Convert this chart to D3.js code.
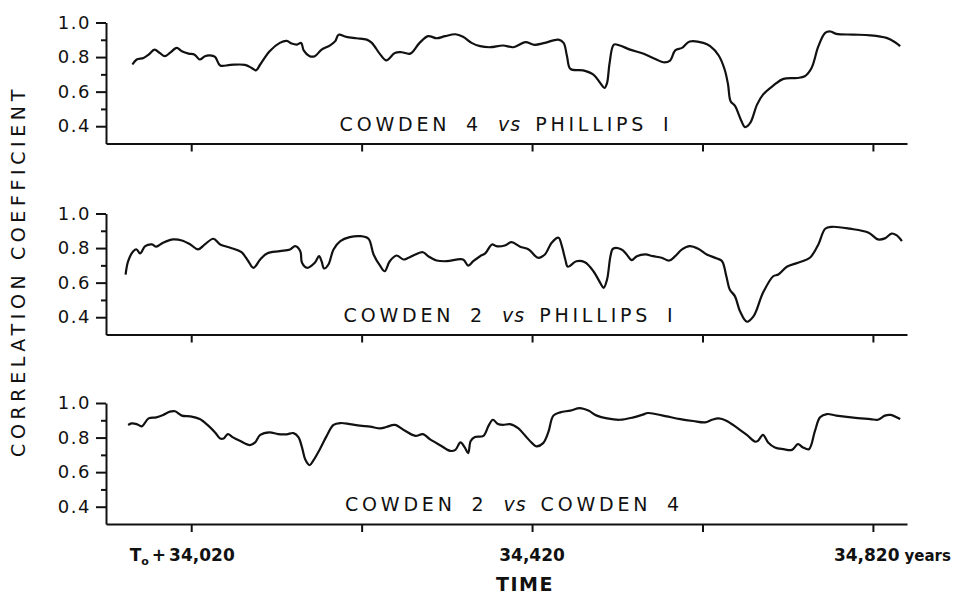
<!DOCTYPE html>
<html>
<head>
<meta charset="utf-8">
<script src="https://cdn.jsdelivr.net/npm/d3@7"></script>
<style>
  body { margin: 0; background: #fff; }
  text { font-family: "DejaVu Sans", sans-serif; fill: #111; }
</style>
</head>
<body>
<div id="chart"></div>
<script>
// data (years, correlation coefficient)
var years1 = [33951,33956,33964,33970,33977,33983,33989,33995,34003,34009,
  34017,34024,34030,34036,34042,34048,34054,34066,34083,34091,
  34096,34101,34112,34124,34132,34138,34144,34149,34152,34159,
  34165,34173,34183,34189,34193,34202,34214,34226,34232,34242,
  34249,34259,34267,34277,34288,34298,34308,34318,34330,34339,
  34349,34359,34371,34386,34398,34412,34423,34435,34451,34457,
  34461,34465,34480,34492,34500,34505,34508,34511,34516,34523,
  34535,34551,34566,34574,34582,34588,34596,34605,34621,34629,
  34639,34646,34650,34653,34658,34665,34670,34676,34684,34691,
  34703,34715,34731,34740,34748,34756,34764,34770,34777,34797,
  34817,34836,34846,34852];
var corr1 = [0.757,0.786,0.795,0.814,0.843,0.824,0.805,0.824,0.853,0.834,
  0.820,0.814,0.786,0.805,0.810,0.801,0.751,0.755,0.755,0.737,
  0.723,0.757,0.834,0.882,0.894,0.878,0.872,0.882,0.839,0.805,
  0.805,0.843,0.868,0.892,0.929,0.917,0.909,0.901,0.882,0.814,
  0.781,0.824,0.828,0.820,0.882,0.921,0.909,0.921,0.932,0.917,
  0.882,0.863,0.857,0.867,0.857,0.886,0.871,0.882,0.901,0.882,
  0.805,0.732,0.723,0.699,0.650,0.621,0.650,0.766,0.872,0.867,
  0.843,0.819,0.786,0.770,0.780,0.839,0.853,0.890,0.882,0.863,
  0.809,0.728,0.641,0.544,0.519,0.438,0.395,0.419,0.525,0.583,
  0.635,0.674,0.679,0.689,0.737,0.863,0.940,0.948,0.934,0.930,
  0.926,0.911,0.886,0.863];

var years2 = [33943,33946,33952,33956,33960,33966,33974,33979,33987,33999,
  34009,34019,34028,34036,34046,34054,34066,34079,34087,34093,
  34101,34109,34124,34136,34142,34148,34150,34156,34165,34170,
  34173,34176,34181,34187,34195,34206,34218,34228,34234,34242,
  34247,34253,34261,34269,34275,34283,34292,34298,34308,34320,
  34339,34345,34351,34359,34365,34373,34378,34388,34396,34406,
  34416,34427,34435,34443,34451,34455,34459,34462,34472,34482,
  34492,34500,34504,34508,34512,34515,34525,34531,34537,34543,
  34553,34562,34572,34581,34588,34596,34605,34615,34625,34637,
  34643,34648,34652,34658,34664,34672,34680,34691,34703,34709,
  34719,34732,34746,34756,34764,34772,34793,34815,34826,34834,
  34842,34848,34854];
var corr2 = [0.647,0.724,0.782,0.792,0.769,0.811,0.821,0.808,0.831,0.850,
  0.844,0.821,0.792,0.821,0.854,0.821,0.802,0.776,0.724,0.686,
  0.734,0.769,0.782,0.792,0.811,0.782,0.715,0.686,0.715,0.753,
  0.724,0.682,0.705,0.792,0.840,0.863,0.869,0.854,0.763,0.695,
  0.666,0.724,0.757,0.734,0.744,0.763,0.776,0.753,0.728,0.724,
  0.734,0.699,0.724,0.753,0.769,0.821,0.811,0.815,0.834,0.808,
  0.792,0.744,0.763,0.831,0.860,0.811,0.734,0.692,0.724,0.718,
  0.666,0.599,0.570,0.618,0.753,0.796,0.792,0.763,0.730,0.753,
  0.763,0.753,0.744,0.728,0.753,0.792,0.811,0.796,0.763,0.740,
  0.724,0.637,0.560,0.522,0.435,0.374,0.406,0.541,0.637,0.647,
  0.692,0.715,0.744,0.821,0.912,0.923,0.912,0.889,0.850,0.856,
  0.884,0.873,0.840];

var years3 = [33946,33950,33956,33962,33970,33979,33987,33995,34001,34009,
  34019,34030,34040,34048,34054,34058,34063,34069,34077,34089,
  34095,34101,34112,34122,34132,34140,34146,34150,34154,34159,
  34163,34171,34179,34187,34195,34206,34218,34230,34242,34249,
  34259,34271,34283,34292,34300,34312,34324,34330,34336,34341,
  34345,34348,34353,34363,34369,34374,34380,34386,34394,34404,
  34412,34420,34425,34433,34439,34445,34453,34465,34476,34486,
  34496,34508,34523,34539,34549,34556,34566,34578,34594,34609,
  34623,34631,34639,34648,34660,34672,34682,34685,34691,34697,
  34705,34715,34725,34732,34738,34745,34752,34758,34766,34777,
  34797,34817,34826,34834,34841,34852];
var corr3 = [0.873,0.882,0.878,0.865,0.911,0.917,0.931,0.950,0.952,0.927,
  0.923,0.907,0.869,0.830,0.795,0.795,0.820,0.801,0.781,0.756,
  0.772,0.815,0.830,0.820,0.819,0.826,0.801,0.743,0.671,0.640,
  0.665,0.733,0.810,0.873,0.884,0.878,0.869,0.863,0.853,0.861,
  0.873,0.839,0.810,0.820,0.791,0.756,0.723,0.729,0.772,0.743,
  0.710,0.780,0.803,0.810,0.869,0.903,0.878,0.873,0.878,0.853,
  0.810,0.768,0.749,0.768,0.830,0.927,0.946,0.956,0.970,0.956,
  0.927,0.911,0.903,0.917,0.931,0.942,0.935,0.923,0.907,0.896,
  0.888,0.903,0.911,0.898,0.859,0.815,0.776,0.781,0.816,0.772,
  0.743,0.733,0.729,0.762,0.743,0.733,0.839,0.917,0.936,0.927,
  0.915,0.907,0.903,0.927,0.931,0.907];

var panelNames = [
  ["COWDEN 4", "vs", "PHILLIPS I"],
  ["COWDEN 2", "vs", "PHILLIPS I"],
  ["COWDEN 2", "vs", "COWDEN 4"]
];
var yMajor = [0.4, 0.6, 0.8, 1.0];
var yMinor = [0.5, 0.7, 0.9];
var xTicks = [34020, 34220, 34420, 34620, 34820];
var xLabelYears = [34020, 34420, 34820];

var width = 958, height = 597;
var panelTop = [22.5, 213.5, 403];
var panelH = 121;
var labelX = [506, 510, 514];

var svg = d3.select("#chart").append("svg")
  .attr("width", width)
  .attr("height", height);

var x = d3.scaleLinear().domain([33920, 34860]).range([106, 907]);

var series = [
  d3.zip(years1, corr1),
  d3.zip(years2, corr2),
  d3.zip(years3, corr3)
];

series.forEach(function(data, i) {
  var y = d3.scaleLinear().domain([0.3, 1.0]).range([panelTop[i] + panelH, panelTop[i]]);
  var g = svg.append("g");

  // x axis with ticks pointing down, no labels here
  g.append("g")
    .attr("transform", "translate(0," + (panelTop[i] + panelH) + ")")
    .call(d3.axisBottom(x).tickValues(xTicks).tickSize(8).tickSizeOuter(0).tickFormat(""));

  // y axis: major ticks with labels
  g.append("g")
    .attr("transform", "translate(106,0)")
    .call(d3.axisLeft(y).tickValues(yMajor).tickSize(10).tickSizeOuter(0).tickPadding(5)
      .tickFormat(d3.format(".1f")));

  // minor ticks
  var minor = g.append("g")
    .attr("transform", "translate(106,0)")
    .call(d3.axisLeft(y).tickValues(yMinor).tickSize(5).tickFormat(""));
  minor.select(".domain").remove();

  var line = d3.line()
    .x(function(d) { return x(d[0]); })
    .y(function(d) { return y(d[1]); })
    .curve(d3.curveCatmullRom.alpha(0.5));

  g.append("path")
    .datum(data)
    .attr("d", line)
    .attr("fill", "none")
    .attr("stroke", "#111")
    .attr("stroke-width", 2.2)
    .attr("stroke-linejoin", "round");

  // panel caption
  var t = g.append("text")
    .attr("x", labelX[i])
    .attr("y", panelTop[i] + panelH - 13)
    .attr("text-anchor", "middle")
    .style("font-size", "19px")
    .style("letter-spacing", "3.8px")
    .style("word-spacing", "6px");
  t.append("tspan").text(panelNames[i][0]);
  t.append("tspan").attr("dx", 16).style("font-style", "italic").style("letter-spacing", "1px").text(panelNames[i][1]);
  t.append("tspan").attr("dx", 14).text(panelNames[i][2]);
});

// style axes
svg.selectAll(".domain, .tick line")
  .attr("stroke", "#111")
  .attr("stroke-width", 2);
svg.selectAll(".tick text")
  .style("font-size", "18px")
  .style("letter-spacing", "1.5px")
  .attr("fill", "#111");

// x tick labels on bottom panel
var xl = svg.append("g").style("font-size", "17px").style("font-weight", "bold");
var baseY = 561;

var l0 = xl.append("text").attr("x", x(xLabelYears[0]) - 9).attr("y", baseY).attr("text-anchor", "middle");
l0.append("tspan").text("T");
l0.append("tspan").attr("dy", 4).style("font-size", "11px").text("o");
l0.append("tspan").attr("dy", -4).attr("dx", 3).text("+");
l0.append("tspan").attr("dx", 3).text("34,020");

xl.append("text").attr("x", x(xLabelYears[1])).attr("y", baseY).attr("text-anchor", "middle").text("34,420");

var l2 = xl.append("text").attr("x", x(xLabelYears[2]) - 39).attr("y", baseY);
l2.append("tspan").text("34,820");
l2.append("tspan").attr("dx", 5).style("font-size", "15px").text("years");

svg.append("text")
  .attr("x", 525)
  .attr("y", 591)
  .attr("text-anchor", "middle")
  .style("font-size", "19px")
  .style("font-weight", "bold")
  .style("letter-spacing", "1.5px")
  .text("TIME");

svg.append("text")
  .attr("transform", "translate(25,271) rotate(-90)")
  .attr("text-anchor", "middle")
  .style("font-size", "19px")
  .style("letter-spacing", "4.6px")
  .text("CORRELATION COEFFICIENT");
</script>
</body>
</html>
